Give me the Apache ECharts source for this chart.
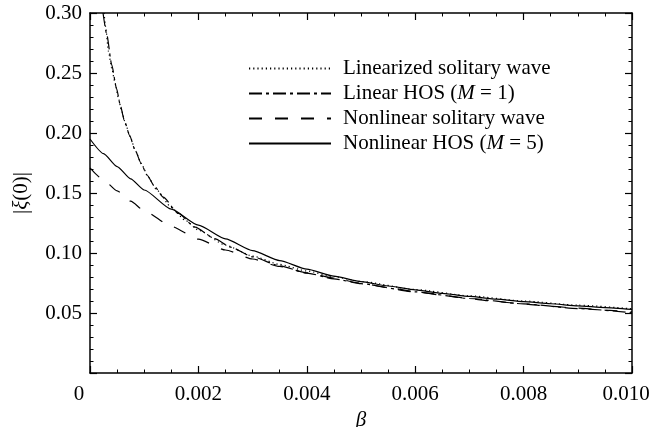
<!DOCTYPE html>
<html>
<head>
<meta charset="utf-8">
<script src="https://cdn.jsdelivr.net/npm/echarts@6/dist/echarts.min.js"></script>
<style>html,body{margin:0;padding:0;background:#fff;}#c{width:654px;height:427px;}</style>
</head>
<body>
<div id="c"></div>
<script>
// ---- data ----
var seriesNames = ['Linearized solitary wave', 'Linear HOS (M = 1)', 'Nonlinear solitary wave', 'Nonlinear HOS (M = 5)'];

var betaLinSol = [0.00026, 0.00029, 0.00034, 0.00040, 0.00046, 0.00052, 0.00058, 0.00066, 0.00074, 0.00084, 0.00095, 0.00108, 0.00123, 0.0015, 0.00175, 0.002, 0.0025, 0.003, 0.0035, 0.004, 0.0045, 0.005, 0.006, 0.007, 0.008, 0.009, 0.010];
var valLinSol  = [0.300, 0.288, 0.268, 0.254, 0.242, 0.230, 0.219, 0.207, 0.197, 0.185, 0.174, 0.163, 0.1525, 0.138, 0.1275, 0.119, 0.1065, 0.0975, 0.0905, 0.0850, 0.0803, 0.0763, 0.0696, 0.0643, 0.0600, 0.0565, 0.0535];

var betaLinHOS = [0.00024, 0.00031, 0.00040, 0.00049, 0.00056, 0.00063, 0.00073, 0.00083, 0.00094, 0.00105, 0.0012, 0.00135, 0.00163, 0.00194, 0.0023, 0.0026, 0.003, 0.0035, 0.004, 0.0045, 0.005, 0.006, 0.007, 0.008, 0.009, 0.010];
var valLinHOS  = [0.300, 0.282, 0.257, 0.237, 0.223, 0.211, 0.198, 0.186, 0.175, 0.165, 0.155, 0.1465, 0.133, 0.1215, 0.112, 0.1048, 0.0968, 0.0893, 0.0833, 0.0785, 0.0744, 0.0676, 0.0621, 0.0576, 0.0537, 0.0502];

var betaNonSol = [0, 0.00025, 0.0005, 0.00075, 0.001, 0.0015, 0.002, 0.0025, 0.003, 0.0035, 0.004, 0.0045, 0.005, 0.0055, 0.006, 0.0065, 0.007, 0.0075, 0.008, 0.0085, 0.009, 0.0095, 0.010];
var valNonSol  = [0.171, 0.1608, 0.1518, 0.1432, 0.1352, 0.1222, 0.1115, 0.1025, 0.095, 0.0888, 0.0835, 0.0790, 0.0748, 0.0711, 0.0678, 0.0648, 0.0620, 0.0596, 0.0575, 0.0556, 0.0540, 0.0524, 0.0510];

var betaNonHOS = [0, 0.00025, 0.0005, 0.00075, 0.001, 0.0015, 0.002, 0.0025, 0.003, 0.0035, 0.004, 0.0045, 0.005, 0.0055, 0.006, 0.0065, 0.007, 0.0075, 0.008, 0.0085, 0.009, 0.0095, 0.010];
var valNonHOS  = [0.195, 0.1828, 0.172, 0.1618, 0.1525, 0.1365, 0.1232, 0.1118, 0.1020, 0.0937, 0.0866, 0.0808, 0.0762, 0.0725, 0.0693, 0.0664, 0.0638, 0.0615, 0.0595, 0.0577, 0.0560, 0.0545, 0.0530];

var xTickLabels = ['0', '0.002', '0.004', '0.006', '0.008', '0.010'];
var yTickLabels = ['', '0.05', '0.10', '0.15', '0.20', '0.25', '0.30'];

// ---- chart ----
var FONT = '"Liberation Serif", "Times New Roman", serif';
function pairs(xs, ys) { return xs.map(function (x, i) { return [x, ys[i]]; }); }

var dashStyles = [[1.2, 3], [13, 4, 3, 4], [13, 13], 'solid'];
var dataSets = [pairs(betaLinSol, valLinSol), pairs(betaLinHOS, valLinHOS), pairs(betaNonSol, valNonSol), pairs(betaNonHOS, valNonHOS)];

var series = seriesNames.map(function (n, i) {
  return {
    name: n, type: 'line', data: dataSets[i], symbol: 'none',
    smooth: 0.2, smoothMonotone: 'x', clip: true,
    lineStyle: { color: '#000', width: 1.2, type: dashStyles[i] },
    itemStyle: { color: '#000' }
  };
});

var itRich = { it: { fontStyle: 'italic', fontFamily: FONT, fontSize: 21, color: '#000' } };

var axisCommonX = {
  type: 'value', min: 0, max: 0.01, interval: 0.002,
  axisLine: { show: true, onZero: false, lineStyle: { color: '#000', width: 1.5 } },
  axisTick: { show: true, inside: true, length: 7, lineStyle: { color: '#000', width: 1.2 } },
  minorTick: { show: true, splitNumber: 4, length: 3.5, lineStyle: { color: '#000', width: 1 } },
  splitLine: { show: false }
};
var axisCommonY = {
  type: 'value', min: 0, max: 0.3, interval: 0.05,
  axisLine: { show: true, onZero: false, lineStyle: { color: '#000', width: 1.5 } },
  axisTick: { show: true, inside: true, length: 7, lineStyle: { color: '#000', width: 1.2 } },
  minorTick: { show: true, splitNumber: 5, length: 3.5, lineStyle: { color: '#000', width: 1 } },
  splitLine: { show: false }
};

var labelRich = {
  z: { fontFamily: FONT, fontSize: 21, color: '#000', padding: [0, 22, 0, 0] },
  e: { fontFamily: FONT, fontSize: 21, color: '#000', padding: [0, 12, 0, 0] }
};

var option = {
  backgroundColor: '#fff',
  animation: false,
  grid: { left: 90, right: 22, top: 13, bottom: 54, containLabel: false, outerBoundsMode: 'none' },
  legend: {
    orient: 'vertical', left: 243, top: 51,
    itemWidth: 82, itemHeight: 14, itemGap: 0,
    data: seriesNames,
    itemStyle: { color: 'rgba(0,0,0,0)', borderWidth: 0, opacity: 0 },
    textStyle: { fontFamily: FONT, fontSize: 21, color: '#000', lineHeight: 25, padding: [0, 0, 0, 7], rich: itRich },
    formatter: function (name) { return name.replace('(M', '({it|M}'); }
  },
  xAxis: [
    Object.assign({}, axisCommonX, {
      position: 'bottom',
      name: '{it|β}', nameLocation: 'middle', nameGap: 33,
      nameTextStyle: { fontFamily: FONT, fontSize: 21, color: '#000', rich: itRich },
      axisLabel: {
        show: true, margin: 11, fontFamily: FONT, fontSize: 21, color: '#000',
        formatter: function (v) {
          var idx = Math.round(v / 0.002);
          var s = xTickLabels[idx];
          if (idx === 0) return '{z|' + s + '}';
          if (idx === xTickLabels.length - 1) return '{e|' + s + '}';
          return s;
        },
        rich: labelRich
      }
    }),
    Object.assign({}, axisCommonX, { position: 'top', axisLabel: { show: false } })
  ],
  yAxis: [
    Object.assign({}, axisCommonY, {
      position: 'left',
      name: '|{it|ξ}(0)|', nameLocation: 'middle', nameGap: 58,
      nameTextStyle: { fontFamily: FONT, fontSize: 21, color: '#000', rich: itRich },
      axisLabel: {
        show: true, margin: 8, fontFamily: FONT, fontSize: 21, color: '#000',
        formatter: function (v) { return yTickLabels[Math.round(v / 0.05)]; }
      }
    }),
    Object.assign({}, axisCommonY, { position: 'right', axisLabel: { show: false } })
  ],
  series: series
};

var chart = echarts.init(document.getElementById('c'), null, { renderer: 'canvas' });
chart.setOption(option);
</script>
</body>
</html>
